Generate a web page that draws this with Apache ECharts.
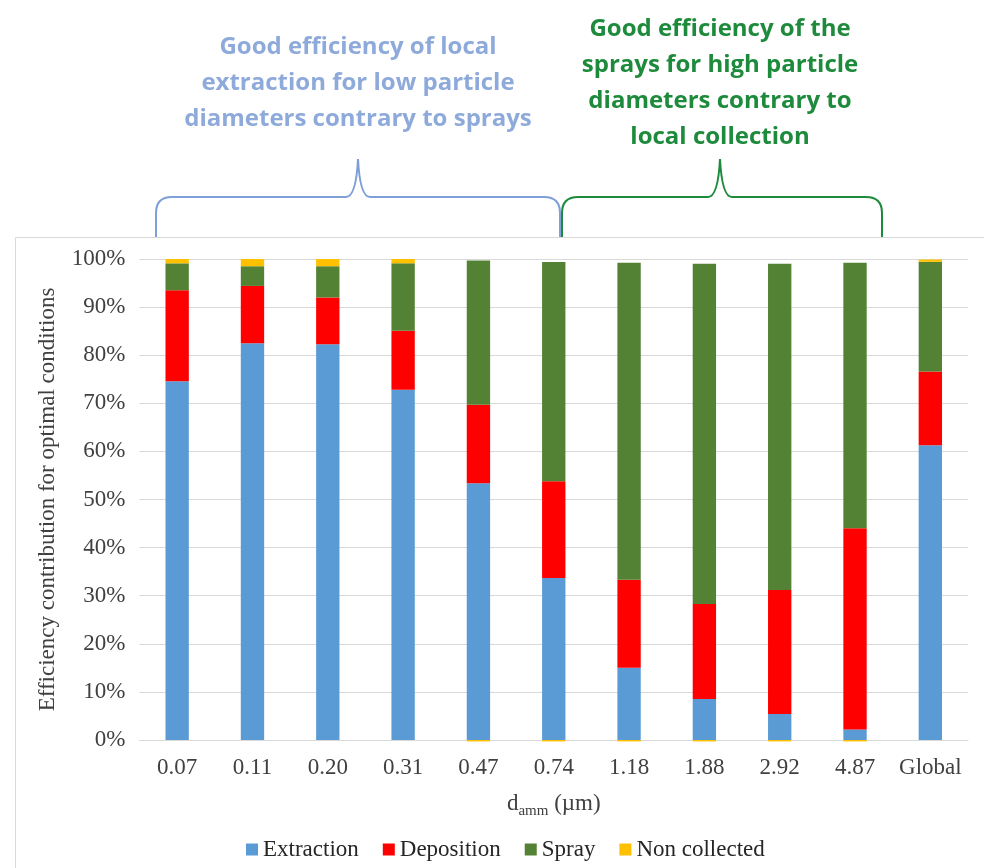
<!DOCTYPE html>
<html>
<head>
<meta charset="utf-8">
<script src="https://cdn.jsdelivr.net/npm/echarts@6/dist/echarts.min.js"></script>
<style>
  html, body { margin: 0; padding: 0; background: #fff; }
  #chart { width: 984px; height: 868px; }
</style>
</head>
<body>
<div id="chart"></div>
<script>
// particle diameters (µm) + global
const categories = ["0.07", "0.11", "0.20", "0.31", "0.47", "0.74", "1.18", "1.88", "2.92", "4.87", "Global"];

// contributions in %
const extraction   = [74.6, 82.5, 82.3, 72.8, 53.4, 33.7, 15.0, 8.5, 5.4, 2.2, 61.3];
const deposition   = [18.9, 11.9, 9.7, 12.3, 16.3, 20.1, 18.3, 19.8, 25.8, 41.8, 15.3];
const spray        = [5.6, 4.1, 6.5, 14.0, 30.0, 45.6, 65.9, 70.7, 67.8, 55.2, 22.8];
const nonCollected = [0.9, 1.5, 1.5, 0.9, -0.3, -0.3, -0.3, -0.3, -0.3, -0.3, 0.5];

const yTicks = { min: 0, max: 100, interval: 10 };

const serif = "'Liberation Serif', 'Times New Roman', serif";
const narrow = "'Liberation Sans Narrow', 'Open Sans', sans-serif";
const fs = 23;

const myChart = echarts.init(document.getElementById("chart"));

function barSeries(name, data, color) {
  return {
    name: name,
    type: "bar",
    stack: "total",
    barWidth: "31%",
    clip: false,
    itemStyle: { color: color },
    data: data
  };
}

// curly brace opening downwards: left end x0, right end x1, tip at xt
function brace(x0, x1, xt, color) {
  const yb = 237, yh = 197, ytip = 159, r = 16;
  const st = { stroke: color, lineWidth: 2, fill: null };
  const seg = (a, b, c, d) => ({ type: "line", silent: true, shape: { x1: a, y1: b, x2: c, y2: d }, style: st });
  const q = (a, b, cx, cy, c, d) => ({
    type: "bezierCurve", silent: true,
    shape: { x1: a, y1: b, cpx1: cx, cpy1: cy, x2: c, y2: d },
    style: st
  });
  return [
    seg(x0, yb, x0, yh + r),
    q(x0, yh + r, x0, yh, x0 + r, yh),
    seg(x0 + r, yh, xt - 12, yh),
    q(xt - 12, yh, xt - 2, yh, xt, ytip),
    q(xt, ytip, xt + 2, yh, xt + 12, yh),
    seg(xt + 12, yh, x1 - r, yh),
    q(x1 - r, yh, x1, yh, x1, yh + r),
    seg(x1, yh + r, x1, yb)
  ];
}

const option = {
  animation: false,
  textStyle: { fontFamily: serif },
  grid: {
    left: 139.5,
    right: 16,
    top: 259,
    bottom: 128
  },
  legend: {
    left: 241,
    top: 833,
    itemWidth: 12,
    itemHeight: 12,
    itemGap: 24,
    icon: "rect",
    textStyle: { fontFamily: serif, fontSize: fs, color: "#262626" },
    data: ["Extraction", "Deposition", "Spray", "Non collected"]
  },
  xAxis: {
    type: "category",
    data: categories,
    axisTick: { show: false },
    axisLine: { lineStyle: { color: "#d9d9d9" } },
    axisLabel: { interval: 0, fontFamily: serif, fontSize: fs, color: "#404040", margin: 16 },
    name: "{a|d}{s|amm}{a| (µm)}",
    nameLocation: "middle",
    nameGap: 49,
    nameTextStyle: {
      rich: {
        a: { fontFamily: serif, fontSize: fs, color: "#404040", verticalAlign: "bottom", lineHeight: 26 },
        s: { fontFamily: serif, fontSize: 15, color: "#404040", verticalAlign: "bottom", lineHeight: 19, padding: [0, 0, -4, 0] }
      }
    }
  },
  yAxis: {
    type: "value",
    min: yTicks.min,
    max: yTicks.max,
    interval: yTicks.interval,
    axisLine: { show: false },
    axisTick: { show: false },
    splitLine: { lineStyle: { color: "#d9d9d9", width: 1 } },
    axisLabel: { formatter: "{value}%", fontFamily: serif, fontSize: fs, color: "#404040", margin: 14 },
    name: "Efficiency contribution for optimal conditions",
    nameLocation: "middle",
    nameGap: 80,
    nameTextStyle: { fontFamily: serif, fontSize: fs, color: "#404040" }
  },
  series: [
    barSeries("Extraction", extraction, "#5b9bd5"),
    barSeries("Deposition", deposition, "#ff0000"),
    barSeries("Spray", spray, "#548235"),
    barSeries("Non collected", nonCollected, "#ffc000")
  ],
  graphic: [
    {
      // chart box outline
      type: "rect",
      silent: true,
      shape: { x: 15.5, y: 237.5, width: 985, height: 640 },
      style: { fill: "none", stroke: "#d9d9d9", lineWidth: 1 }
    }
  ].concat(brace(156, 560, 358, "#7f9fd8"), brace(562, 882, 720, "#1e8a3c"), [
    {
      type: "text",
      silent: true,
      x: 358,
      y: 29,
      style: {
        text: "Good efficiency of local\nextraction for low particle\ndiameters contrary to sprays",
        align: "center",
        font: "bold 24px " + narrow,
        lineHeight: 36,
        fill: "#8eaadb"
      }
    },
    {
      type: "text",
      silent: true,
      x: 720,
      y: 11,
      style: {
        text: "Good efficiency of the\nsprays for high particle\ndiameters contrary to\nlocal collection",
        align: "center",
        font: "bold 24px " + narrow,
        lineHeight: 36,
        fill: "#1e8a3c"
      }
    }
  ])
};

myChart.setOption(option);
</script>
</body>
</html>
